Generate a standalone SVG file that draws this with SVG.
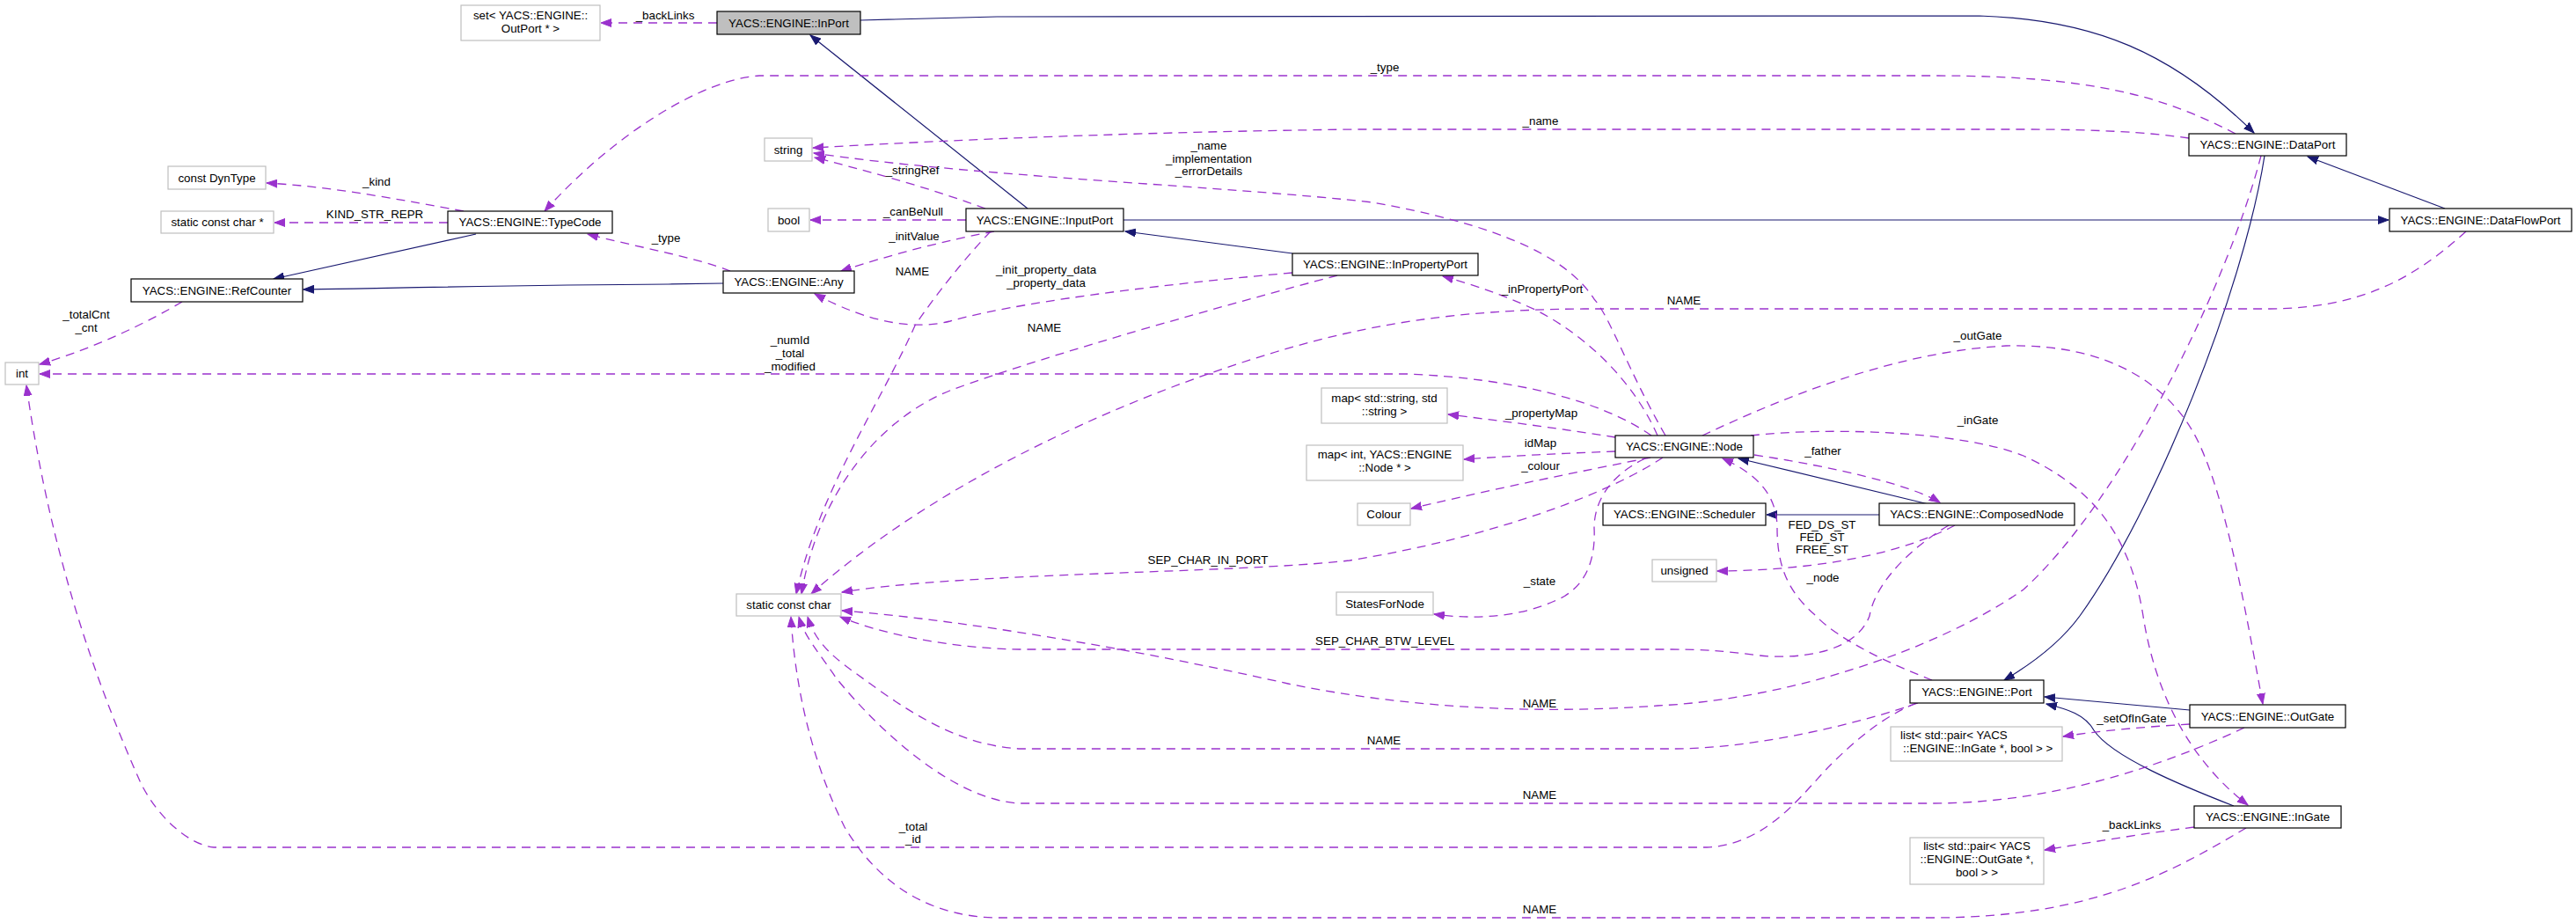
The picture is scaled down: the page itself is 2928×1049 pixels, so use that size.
<svg xmlns="http://www.w3.org/2000/svg" width="2928" height="1049" viewBox="0 0 2928 1049">
<style>
.n{fill:#ffffff;stroke:#000000;stroke-width:1.2}
.g{fill:#ffffff;stroke:#bfbfbf;stroke-width:1.2}
.h{fill:#bfbfbf;stroke:#000000;stroke-width:1.2}
text{font-family:"Liberation Sans",Arial,Helvetica,sans-serif;font-size:13.33px;fill:#000000}
.c{text-anchor:middle}
.b{fill:none;stroke:#191970;stroke-width:1.2;marker-end:url(#ab)}
.p{fill:none;stroke:#9a32cd;stroke-width:1.3;stroke-dasharray:10,7;marker-end:url(#ap)}
</style>
<defs>
<marker id="ab" markerWidth="13" markerHeight="10" refX="12" refY="5" orient="auto" markerUnits="userSpaceOnUse" viewBox="0 0 13 10"><path d="M0,0.5 L12,5 L0,9.5 z" fill="#191970" stroke="#191970" stroke-width="1"/></marker>
<marker id="ap" markerWidth="13" markerHeight="10" refX="12" refY="5" orient="auto" markerUnits="userSpaceOnUse" viewBox="0 0 13 10"><path d="M0,0.5 L12,5 L0,9.5 z" fill="#9a32cd" stroke="#9a32cd" stroke-width="1"/></marker>
</defs>
<rect x="0" y="0" width="2928" height="1049" fill="#ffffff"/>

<g id="edges">
<!-- inheritance (blue) -->
<path class="b" d="M1168,237 L921,40"/>
<path class="b" d="M978,23 L1133,19 L2250,18 C2380,22 2470,60 2562,151"/>
<path class="b" d="M1277,250 L2715,250"/>
<path class="b" d="M2779,237 L2623,178"/>
<path class="b" d="M1469,288 L1279,263"/>
<path class="b" d="M822,322 L760,323 C600,324 450,327 345,329"/>
<path class="b" d="M541,266 L311,317"/>
<path class="b" d="M2192,573 L1976,521"/>
<path class="b" d="M2136,585 L2008,585"/>
<path class="b" d="M2574,177 C2550,330 2450,580 2364,700 C2340,733 2305,757 2278,773"/>
<path class="b" d="M2489,807 L2324,792"/>
<path class="b" d="M2539,916 C2480,893 2400,860 2380,830 C2370,812 2350,806 2326,800"/>

<!-- usage (purple dashed) -->
<path class="p" d="M815,26 L683,26"/>
<path class="p" d="M2541,152 C2460,110 2380,86 2200,86 L863,86 C800,90 700,150 619,240"/>
<path class="p" d="M2488,157 C2440,150 2380,147 2300,147 L1540,147 C1300,150 1100,158 924,168"/>
<path class="p" d="M1893,495 C1850,420 1830,360 1812,340 C1780,290 1700,255 1560,230 C1400,212 1100,200 925,174"/>
<path class="p" d="M1120,237 C1060,215 1000,198 926,179"/>
<path class="p" d="M1098,250 L921,250"/>
<path class="p" d="M1130,263 C1080,272 1010,290 956,308"/>
<path class="p" d="M1126,263 C1095,295 1060,340 1040,370 C1000,460 930,560 905,675"/>
<path class="p" d="M830,308 C790,292 720,280 668,266"/>
<path class="p" d="M1469,310 C1300,325 1150,345 1080,365 C1040,375 990,368 926,334"/>
<path class="p" d="M1520,313 C1400,345 1200,400 1082,443 C1000,475 930,560 911,675"/>
<path class="p" d="M207,343 C170,365 110,395 45,414"/>
<path class="p" d="M1877,495 C1820,455 1720,430 1600,425 L45,425"/>
<path class="p" d="M1884,495 C1860,440 1810,385 1745,352 C1710,336 1680,325 1640,314"/>
<path class="p" d="M2803,263 C2740,320 2680,350 2580,351 L1800,351 C1650,352 1550,370 1450,400 C1250,460 1050,560 922,675"/>
<path class="p" d="M1836,497 C1780,488 1720,480 1646,471"/>
<path class="p" d="M1836,513 C1780,515 1720,518 1664,522"/>
<path class="p" d="M1876,520 C1800,535 1700,555 1604,578"/>
<path class="p" d="M1890,520 C1830,560 1700,610 1534,637 C1400,652 1100,650 957,673"/>
<path class="p" d="M1870,521 C1830,540 1812,570 1812,600 C1814,640 1800,670 1767,683 C1730,700 1680,705 1630,698"/>
<path class="p" d="M1994,517 C2080,530 2170,550 2205,571"/>
<path class="p" d="M1990,495 C2080,485 2230,490 2300,518 C2370,550 2420,600 2436,700 C2450,790 2490,865 2555,915"/>
<path class="p" d="M1935,495 C2020,455 2150,400 2280,393 C2400,390 2470,440 2500,505 C2530,570 2550,680 2572,800"/>
<path class="p" d="M2196,773 C2150,755 2090,728 2062,698 C2030,670 2020,640 2020,600 C2020,565 2000,540 1958,521"/>
<path class="p" d="M2222,597 C2170,625 2080,648 1952,649"/>
<path class="p" d="M2215,597 C2160,630 2130,670 2125,700 C2110,740 2050,750 2000,745 C1960,740 1940,738 1900,738 L1160,738 C1080,737 1000,720 955,701"/>
<path class="p" d="M2570,177 C2530,330 2410,570 2300,670 C2200,740 2030,795 1884,802 C1750,812 1600,805 1464,777 C1300,740 1100,705 957,694"/>
<path class="p" d="M2180,799 C2120,820 2000,851 1900,851 L1160,851 C1100,848 1050,820 1000,785 C960,755 930,740 918,701"/>
<path class="p" d="M2551,827 C2480,860 2350,913 2196,913 L1160,913 C1080,910 990,820 950,770 C930,740 915,725 908,701"/>
<path class="p" d="M2553,941 C2470,990 2380,1043 2196,1043 L1130,1043 C1040,1040 990,990 960,940 C930,880 905,800 899,701"/>
<path class="p" d="M2178,799 C2140,815 2110,840 2080,870 C2050,900 2010,960 1940,963 L243,963 C215,960 180,930 160,890 C120,800 60,650 30,438"/>
<path class="p" d="M2489,823 C2440,826 2390,830 2345,837"/>
<path class="p" d="M2494,940 C2440,947 2390,955 2324,966"/>
<path class="p" d="M527,240 C460,228 380,212 303,208"/>
<path class="p" d="M509,253 L312,253"/>
</g>

<g id="edge-labels">
<text class="c" x="756" y="22">_backLinks</text>
<text class="c" x="1574" y="81">_type</text>
<text class="c" x="1751" y="142">_name</text>
<text class="c" x="428" y="211">_kind</text>
<text class="c" x="426" y="248">KIND_STR_REPR</text>
<text class="c" x="1374" y="170">_name</text>
<text class="c" x="1374" y="185">_implementation</text>
<text class="c" x="1374" y="199">_errorDetails</text>
<text class="c" x="1037" y="198">_stringRef</text>
<text class="c" x="1038" y="245">_canBeNull</text>
<text class="c" x="1039" y="273">_initValue</text>
<text class="c" x="757" y="275">_type</text>
<text class="c" x="1037" y="313">NAME</text>
<text class="c" x="1189" y="311">_init_property_data</text>
<text class="c" x="1189" y="326">_property_data</text>
<text class="c" x="1753" y="333">_inPropertyPort</text>
<text class="c" x="1914" y="346">NAME</text>
<text class="c" x="98" y="362">_totalCnt</text>
<text class="c" x="98" y="377">_cnt</text>
<text class="c" x="1187" y="377">NAME</text>
<text class="c" x="898" y="391">_numId</text>
<text class="c" x="898" y="406">_total</text>
<text class="c" x="898" y="421">_modified</text>
<text class="c" x="2248" y="386">_outGate</text>
<text class="c" x="1752" y="474">_propertyMap</text>
<text class="c" x="2248" y="482">_inGate</text>
<text class="c" x="1751" y="508">idMap</text>
<text class="c" x="2072" y="517">_father</text>
<text class="c" x="1751" y="534">_colour</text>
<text class="c" x="2071" y="601">FED_DS_ST</text>
<text class="c" x="2071" y="615">FED_ST</text>
<text class="c" x="2071" y="629">FREE_ST</text>
<text class="c" x="1373" y="641">SEP_CHAR_IN_PORT</text>
<text class="c" x="2072" y="661">_node</text>
<text class="c" x="1750" y="665">_state</text>
<text class="c" x="1574" y="733">SEP_CHAR_BTW_LEVEL</text>
<text class="c" x="1750" y="804">NAME</text>
<text class="c" x="2423" y="821">_setOfInGate</text>
<text class="c" x="1573" y="846">NAME</text>
<text class="c" x="1750" y="908">NAME</text>
<text class="c" x="2423" y="942">_backLinks</text>
<text class="c" x="1038" y="944">_total</text>
<text class="c" x="1038" y="958">_id</text>
<text class="c" x="1750" y="1038">NAME</text>
</g>

<g id="n_set"><rect class="g" x="524" y="6" width="158" height="40"/><text class="c" x="603" y="22">set&lt; YACS::ENGINE::</text><text class="c" x="603" y="37">OutPort * &gt;</text></g>
<g id="n_inport"><rect class="h" x="815" y="13" width="163" height="26"/><text class="c" x="896.5" y="30.5">YACS::ENGINE::InPort</text></g>
<g id="n_dyntype"><rect class="g" x="191" y="189" width="111" height="26"/><text class="c" x="246.5" y="206.5">const DynType</text></g>
<g id="n_sccptr"><rect class="g" x="183" y="240" width="128" height="25"/><text class="c" x="247" y="257">static const char *</text></g>
<g id="n_typecode"><rect class="n" x="509" y="240" width="187" height="25"/><text class="c" x="602.5" y="257">YACS::ENGINE::TypeCode</text></g>
<g id="n_refcounter"><rect class="n" x="149" y="317" width="195" height="26"/><text class="c" x="246.5" y="334.5">YACS::ENGINE::RefCounter</text></g>
<g id="n_string"><rect class="g" x="869" y="157" width="54" height="26"/><text class="c" x="896" y="174.5">string</text></g>
<g id="n_bool"><rect class="g" x="873" y="237" width="47" height="26"/><text class="c" x="896.5" y="254.5">bool</text></g>
<g id="n_inputport"><rect class="n" x="1098" y="237" width="179" height="26"/><text class="c" x="1187.5" y="254.5">YACS::ENGINE::InputPort</text></g>
<g id="n_any"><rect class="n" x="822" y="308" width="149" height="25"/><text class="c" x="896.5" y="325">YACS::ENGINE::Any</text></g>
<g id="n_inpropertyport"><rect class="n" x="1469" y="288" width="211" height="25"/><text class="c" x="1574.5" y="305">YACS::ENGINE::InPropertyPort</text></g>
<g id="n_dataport"><rect class="n" x="2488" y="152" width="179" height="25"/><text class="c" x="2577.5" y="169">YACS::ENGINE::DataPort</text></g>
<g id="n_dataflowport"><rect class="n" x="2716" y="237" width="207" height="26"/><text class="c" x="2819.5" y="254.5">YACS::ENGINE::DataFlowPort</text></g>
<g id="n_int"><rect class="g" x="6" y="412" width="38" height="25"/><text class="c" x="25" y="429">int</text></g>
<g id="n_scc"><rect class="g" x="837" y="675" width="119" height="25"/><text class="c" x="896.5" y="692">static const char</text></g>
<g id="n_mapss"><rect class="g" x="1502" y="441" width="143" height="40"/><text class="c" x="1573.5" y="457">map&lt; std::string, std</text><text class="c" x="1573.5" y="472">::string &gt;</text></g>
<g id="n_mapin"><rect class="g" x="1485" y="506" width="178" height="40"/><text class="c" x="1574" y="521">map&lt; int, YACS::ENGINE</text><text class="c" x="1574" y="536">::Node * &gt;</text></g>
<g id="n_colour"><rect class="g" x="1543" y="572" width="60" height="25"/><text class="c" x="1573" y="589">Colour</text></g>
<g id="n_states"><rect class="g" x="1519" y="673" width="110" height="26"/><text class="c" x="1574" y="690.5">StatesForNode</text></g>
<g id="n_node"><rect class="n" x="1836" y="495" width="157" height="25"/><text class="c" x="1914.5" y="512">YACS::ENGINE::Node</text></g>
<g id="n_scheduler"><rect class="n" x="1822" y="572" width="185" height="25"/><text class="c" x="1914.5" y="589">YACS::ENGINE::Scheduler</text></g>
<g id="n_unsigned"><rect class="g" x="1878" y="636" width="73" height="25"/><text class="c" x="1914.5" y="653">unsigned</text></g>
<g id="n_composednode"><rect class="n" x="2136" y="572" width="222" height="25"/><text class="c" x="2247" y="589">YACS::ENGINE::ComposedNode</text></g>
<g id="n_port"><rect class="n" x="2171" y="773" width="152" height="26"/><text class="c" x="2247" y="790.5">YACS::ENGINE::Port</text></g>
<g id="n_listin"><rect class="g" x="2149" y="826" width="195" height="39"/><text x="2160" y="840">list&lt; std::pair&lt; YACS</text><text x="2163" y="855">::ENGINE::InGate *, bool &gt; &gt;</text></g>
<g id="n_listout"><rect class="g" x="2171" y="952" width="152" height="53"/><text class="c" x="2247" y="966">list&lt; std::pair&lt; YACS</text><text class="c" x="2247" y="981">::ENGINE::OutGate *,</text><text class="c" x="2247" y="996">bool &gt; &gt;</text></g>
<g id="n_outgate"><rect class="n" x="2489" y="801" width="177" height="26"/><text class="c" x="2577.5" y="818.5">YACS::ENGINE::OutGate</text></g>
<g id="n_ingate"><rect class="n" x="2494" y="916" width="167" height="25"/><text class="c" x="2577.5" y="933">YACS::ENGINE::InGate</text></g>
</svg>
